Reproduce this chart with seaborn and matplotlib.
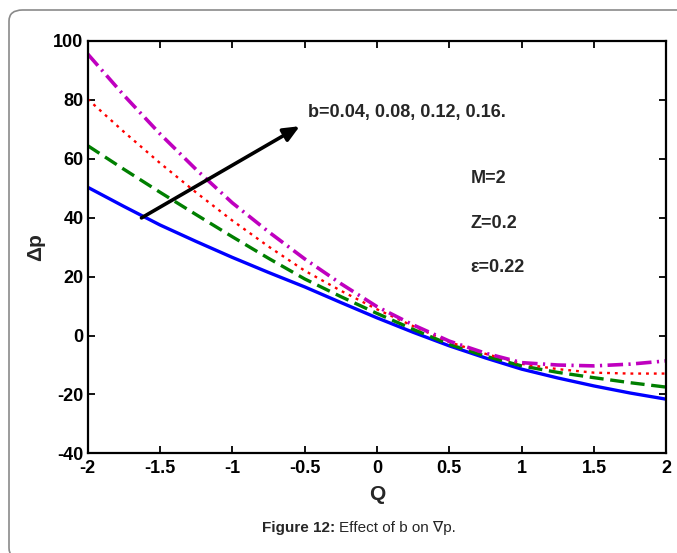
import matplotlib
matplotlib.use("Agg")
import matplotlib.pyplot as plt
import seaborn as sns
import numpy as np
import pandas as pd
from matplotlib.patches import FancyBboxPatch

# ---- data ----
Q = [-2.0, -1.75, -1.5, -1.25, -1.0, -0.75, -0.5, -0.25, 0.0,
     0.25, 0.5, 0.75, 1.0, 1.25, 1.5, 1.75, 2.0]
dp_b004 = [50.3, 43.8, 37.5, 31.9, 26.5, 21.4, 16.5, 11.2, 6.0,
           1.1, -3.5, -7.6, -11.4, -14.4, -17.1, -19.5, -21.6]
dp_b008 = [64.4, 56.4, 48.6, 41.0, 33.5, 26.2, 19.2, 13.2, 7.5,
           2.1, -3.0, -7.0, -10.3, -12.5, -14.3, -16.0, -17.5]
dp_b012 = [80.2, 69.1, 58.5, 48.5, 39.0, 30.2, 22.0, 15.2, 8.9,
           3.2, -2.2, -6.2, -9.6, -11.4, -12.6, -12.9, -12.9]
dp_b016 = [95.5, 81.5, 68.4, 56.3, 45.0, 35.2, 26.0, 17.6, 9.8,
           3.6, -1.9, -6.0, -9.2, -10.0, -10.3, -9.7, -8.6]
xticks = [-2, -1.5, -1, -0.5, 0, 0.5, 1, 1.5, 2]
xticklabels = ["-2", "-1.5", "-1", "-0.5", "0", "0.5", "1", "1.5", "2"]
yticks = [-40, -20, 0, 20, 40, 60, 80, 100]
yticklabels = ["-40", "-20", "0", "20", "40", "60", "80", "100"]

sns.set_theme(style="white")
plt.rcParams['font.family'] = ['Liberation Sans', 'DejaVu Sans']
plt.rcParams['axes.unicode_minus'] = False

fig = plt.figure(figsize=(6.77, 5.53), dpi=100)
ax = fig.add_axes([0.1295, 0.180, 0.8547, 0.7464])

styles = [
    (dp_b004, "#0000ff", dict(linestyle="-", linewidth=2.4)),
    (dp_b008, "#007f00", dict(linewidth=2.4, dashes=(4.2, 2.0))),
    (dp_b012, "#ff0000", dict(linewidth=1.7, dashes=(1.2, 2.1))),
    (dp_b016, "#bf00bf", dict(linewidth=2.6, dashes=(4.3, 1.5, 0.6, 1.5))),
]
for vals, col, kw in styles:
    df = pd.DataFrame({"Q": Q, "dp": vals})
    sns.lineplot(data=df, x="Q", y="dp", color=col, ax=ax, **kw)

ax.set_xlim(-2, 2)
ax.set_ylim(-40, 100)
ax.set_xticks(xticks)
ax.set_xticklabels(xticklabels)
ax.set_yticks(yticks)
ax.set_yticklabels(yticklabels)
for sp in ax.spines.values():
    sp.set_visible(True)
    sp.set_color("black")
    sp.set_linewidth(1.6)
ax.tick_params(direction="in", length=5, width=1.3, top=True, right=True,
               bottom=True, left=True, labelsize=13, colors="black")
ax.tick_params(axis="x", pad=4.5)
ax.tick_params(axis="y", pad=3)
for lab in ax.get_xticklabels() + ax.get_yticklabels():
    lab.set_fontweight("bold")
ax.set_xlabel("Q", fontsize=15, fontweight="bold", labelpad=6)
ax.set_ylabel("Δp", fontsize=15, fontweight="bold", labelpad=6)

ax.annotate("", xy=(-0.534, 71.0), xytext=(-1.628, 39.9),
            arrowprops=dict(arrowstyle="-|>,head_length=0.8,head_width=0.35",
                            color="black", lw=2.6, shrinkA=0, shrinkB=0))
ax.text(-0.48, 75.5, "b=0.04, 0.08, 0.12, 0.16.", fontsize=13,
        fontweight="bold", va="center", ha="left")
ax.text(0.645, 53.4, "M=2", fontsize=13, fontweight="bold", va="center")
ax.text(0.645, 38.1, "Z=0.2", fontsize=13, fontweight="bold", va="center")
ax.text(0.645, 23.2, "ε=0.22", fontsize=13, fontweight="bold", va="center")

# caption
cap_y = 1 - 528 / 553
fig.text(262 / 677, cap_y, "Figure 12:", fontsize=11, fontweight="bold",
         ha="left", va="center")
fig.text(339 / 677, cap_y, "Effect of b on ∇p.", fontsize=11,
         ha="left", va="center")

# page border
box = FancyBboxPatch((9 / 677, -6 / 553), 700 / 677, 549 / 553,
                     boxstyle="round,pad=0,rounding_size=0.02",
                     transform=fig.transFigure, fill=False,
                     edgecolor="#8a8a8a", linewidth=1.2, zorder=-1)
fig.patches.append(box)

fig.savefig("out.png", dpi=100)
